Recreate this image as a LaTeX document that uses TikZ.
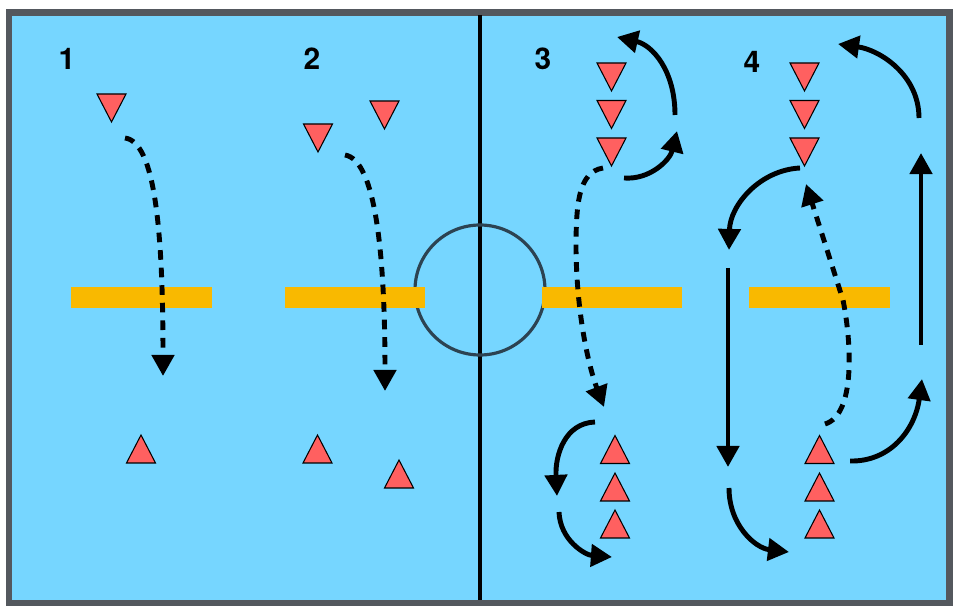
\documentclass[tikz,border=0pt]{standalone}
\usepackage{fontspec}
\setmainfont{TeX Gyre Heros}
\usetikzlibrary{arrows.meta}
\definecolor{pool}{HTML}{76D6FF}
\definecolor{framegray}{HTML}{54585E}
\definecolor{conered}{HTML}{FF6060}
\definecolor{barorange}{HTML}{F9B900}
\definecolor{ringcol}{HTML}{2C4352}
\tikzset{
  run/.style={line width=2.8pt, -{Triangle[length=12pt,width=12.5pt]}},
  pass/.style={run, dash pattern=on 5.5pt off 4.5pt},
  lab/.style={font=\bfseries\fontsize{17}{19}\selectfont, inner sep=0pt},
  conestyle/.style={draw=black, line width=0.6pt, fill=conered, line join=miter},
  barstyle/.style={fill=barorange},
  dcone/.pic={\draw[conestyle] (-14.5,-14) -- (14.5,-14) -- (0,14) -- cycle;},
  ucone/.pic={\draw[conestyle] (-14.5,14) -- (14.5,14) -- (0,-14) -- cycle;}
}
\begin{document}
\begin{tikzpicture}[x=0.02cm,y=-0.02cm]
\useasboundingbox (0,0) rectangle (960,614);
\fill[white] (0,0) rectangle (960,614);
% pool
\draw[fill=pool, draw=framegray, line width=3.6pt] (9,12.5) rectangle (949.5,603);
% centre line and circle
\draw[black, line width=1.8pt] (480,15) -- (480,600);
\draw[ringcol, line width=1.8pt] (480,290) circle (65);
% bars
\fill[barstyle] (71,287) rectangle (212,308);
\fill[barstyle] (285,287) rectangle (425,308);
\fill[barstyle] (542,287) rectangle (682,308);
\fill[barstyle] (749,287) rectangle (890,308);
% labels
\node[lab] (l1) at (67,59) {1};
\node[lab] (l2) at (312,59) {2};
\node[lab] (l3) at (543,59) {3};
\node[lab] (l4) at (752,62) {4};
% cones
\pic (d1) at (111.5,108) {dcone};
\pic (u1) at (141,449) {ucone};
\pic (d2a) at (318,138) {dcone};
\pic (d2b) at (384.5,115) {dcone};
\pic (u2a) at (317.5,449) {ucone};
\pic (u2b) at (399,474) {ucone};
\pic (d3a) at (611.5,77) {dcone};
\pic (d3b) at (611.5,114.5) {dcone};
\pic (d3c) at (611.5,152) {dcone};
\pic (u3a) at (615,449.5) {ucone};
\pic (u3b) at (615,487) {ucone};
\pic (u3c) at (615,524) {ucone};
\pic (d4a) at (804.5,77) {dcone};
\pic (d4b) at (804.5,114.5) {dcone};
\pic (d4c) at (804.5,152) {dcone};
\pic (u4a) at (819.5,449.5) {ucone};
\pic (u4b) at (819.5,487) {ucone};
\pic (u4c) at (819.5,524) {ucone};
% drill 1
\draw[pass] (125,138) .. controls (155,142) and (163,230) .. (163,376);
% drill 2
\draw[pass] (345,155) .. controls (375,160) and (385,250) .. (385,391);
% drill 3
\draw[run] (675,115) .. controls (675,70) and (652,45) .. (617,37);
\draw[run] (624,178) .. controls (650,180) and (670,160) .. (677,131);
\draw[pass] (603,168) .. controls (578,172) and (576,205) .. (576,250)
  .. controls (577,320) and (590,370) .. (604,407);
\draw[run] (595,422) .. controls (565,423) and (555,455) .. (557,496);
\draw[run] (559,512) .. controls (560,540) and (585,555) .. (612,557);
% drill 4
\draw[run] (919,118) .. controls (919,75) and (880,50) .. (838,44);
\draw[run] (921,345) -- (921,153);
\draw[run] (800,168) .. controls (760,170) and (730,205) .. (729,250);
\draw[run] (728,268) -- (728,467);
\draw[run] (729,488) .. controls (729,525) and (755,548) .. (789,552);
\draw[pass] (825,424) .. controls (855,415) and (852,345) .. (843,300) -- (806,184);
\draw[run] (850,461) .. controls (890,462) and (915,430) .. (922,379);
\end{tikzpicture}
\end{document}
